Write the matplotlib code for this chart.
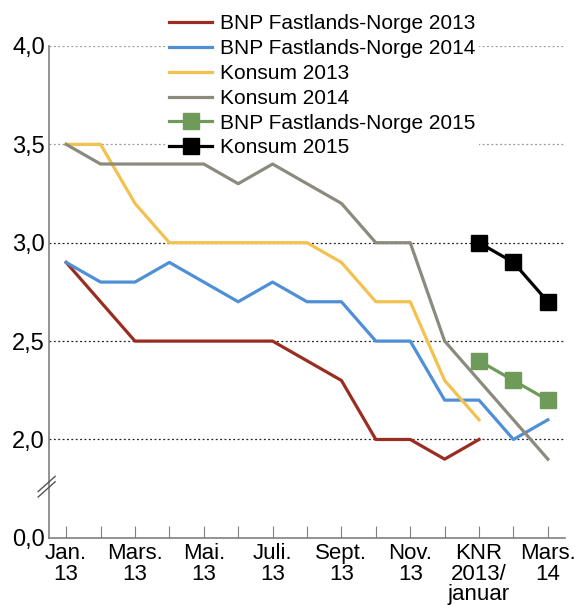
import matplotlib
matplotlib.use("Agg")
import matplotlib.pyplot as plt

plt.rcParams["font.family"] = ["Liberation Sans", "DejaVu Sans"]

# Data (the 0,0 tick is drawn at 1.5 because of the broken axis)
x_labels = ["Jan.\n13", "", "Mars.\n13", "", "Mai.\n13", "", "Juli.\n13", "",
            "Sept.\n13", "", "Nov.\n13", "", "KNR\n2013/\njanuar", "", "Mars.\n14"]
bnp_2013 = [2.9, 2.7, 2.5, 2.5, 2.5, 2.5, 2.5, 2.4, 2.3, 2.0, 2.0, 1.9, 2.0]
bnp_2014 = [2.9, 2.8, 2.8, 2.9, 2.8, 2.7, 2.8, 2.7, 2.7, 2.5, 2.5, 2.2, 2.2, 2.0, 2.1]
konsum_2013 = [3.5, 3.5, 3.2, 3.0, 3.0, 3.0, 3.0, 3.0, 2.9, 2.7, 2.7, 2.3, 2.1]
konsum_2014 = [3.5, 3.4, 3.4, 3.4, 3.4, 3.3, 3.4, 3.3, 3.2, 3.0, 3.0, 2.5, 2.3, 2.1, 1.9]
bnp_2015 = [2.4, 2.3, 2.2]
konsum_2015 = [3.0, 2.9, 2.7]
start_2015 = 12
y_ticks = [1.5, 2.0, 2.5, 3.0, 3.5, 4.0]
y_tick_labels = ["0,0", "2,0", "2,5", "3,0", "3,5", "4,0"]

fig = plt.figure(figsize=(5.76, 6.05), dpi=100)
ax = fig.add_axes([0.085, 0.111, 0.896, 0.813])

# gridlines
for y in [2.0, 2.5, 3.0]:
    ax.axhline(y, color="#222222", linestyle=(0, (1.5, 2)), linewidth=0.9, zorder=1)
for y in [3.5, 4.0]:
    ax.axhline(y, color="#999999", linestyle=(0, (1.5, 2)), linewidth=0.9, zorder=1)

lw = 2.3
ax.plot(range(len(bnp_2013)), bnp_2013, color="#9B2D20", lw=lw, label="BNP Fastlands-Norge 2013", zorder=3)
ax.plot(range(len(bnp_2014)), bnp_2014, color="#4F8FD6", lw=lw, label="BNP Fastlands-Norge 2014", zorder=3)
ax.plot(range(len(konsum_2013)), konsum_2013, color="#F2C14E", lw=lw, label="Konsum 2013", zorder=3)
ax.plot(range(len(konsum_2014)), konsum_2014, color="#8C8A7C", lw=lw, label="Konsum 2014", zorder=3)
x15 = range(start_2015, start_2015 + len(bnp_2015))
ax.plot(x15, bnp_2015, color="#6E9B5A", lw=lw, marker="s", markersize=12,
        label="BNP Fastlands-Norge 2015", zorder=4)
ax.plot(x15, konsum_2015, color="black", lw=lw, marker="s", markersize=12,
        label="Konsum 2015", zorder=4)

ax.set_xlim(-0.5, 14.5)
ax.set_ylim(1.5, 4.0)
ax.set_yticks(y_ticks)
ax.set_yticklabels(y_tick_labels, fontsize=17)
ax.tick_params(axis="y", length=0, pad=3)
ax.set_xticks(range(len(x_labels)))
ax.set_xticklabels(x_labels, fontsize=16, linespacing=0.95)
ax.tick_params(axis="x", direction="in", length=9, color="#808080", pad=4)

for side in ["top", "right"]:
    ax.spines[side].set_visible(False)
for side in ["left", "bottom"]:
    ax.spines[side].set_color("#808080")
    ax.spines[side].set_linewidth(1.2)

# axis break marks
for dy in [0, 0.011]:
    ax.plot([-0.021, 0.012], [0.083 + dy, 0.114 + dy], transform=ax.transAxes,
            color="#555555", lw=1.0, clip_on=False, zorder=5)

leg = ax.legend(loc="upper left", bbox_to_anchor=(0.205, 1.094), fontsize=15,
                frameon=True, framealpha=1, edgecolor="none", handlelength=2.07,
                handletextpad=0.35, labelspacing=0.28, borderpad=0.2)
leg.get_frame().set_facecolor("white")

fig.savefig("out.png", dpi=100)
